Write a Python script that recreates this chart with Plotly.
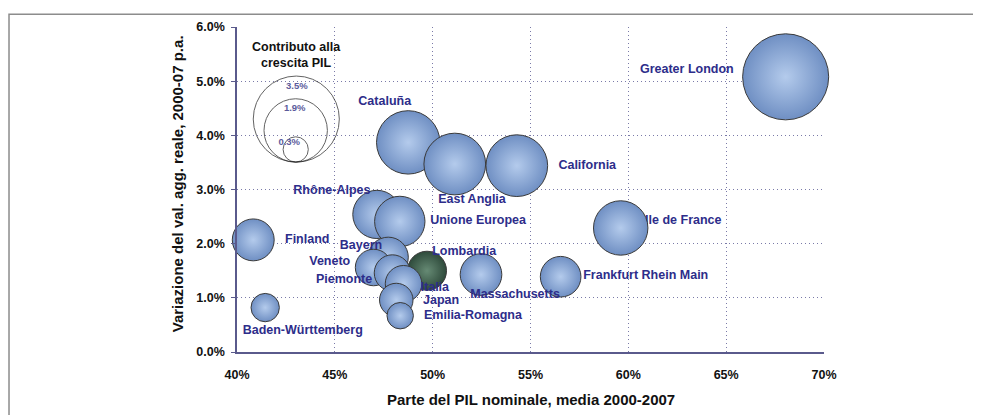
import plotly.graph_objects as go

# ---------------- data ----------------
regions = ["Greater London", "Cataluña", "East Anglia", "California", "Ile de France",
           "Rhône-Alpes", "Unione Europea", "Finland", "Frankfurt Rhein Main",
           "Massachusetts", "Bayern", "Lombardia", "Veneto", "Piemonte", "Italia",
           "Japan", "Emilia-Romagna", "Baden-Württemberg"]
pil_share = [68.04, 48.75, 51.13, 54.30, 59.61,
             47.15, 48.32, 40.83, 56.54,
             52.47, 47.73, 49.71, 46.98, 47.94, 48.51,
             48.14, 48.34, 41.44]
va_growth = [5.08, 3.87, 3.47, 3.44, 2.29,
             2.54, 2.41, 2.07, 1.39,
             1.43, 1.75, 1.50, 1.56, 1.46, 1.26,
             0.96, 0.67, 0.82]
contrib = [3.5, 1.9, 1.8, 1.8, 1.4,
           1.1, 1.2, 0.83, 0.78,
           0.82, 0.76, 0.72, 0.63, 0.62, 0.63,
           0.53, 0.33, 0.38]

# label anchor positions (data coordinates)
label_x = [62.99, 47.55, 52.01, 57.90, 62.81,
           44.85, 52.32, 43.59, 60.89,
           54.21, 46.34, 51.61, 44.74, 45.47, 50.11,
           50.43, 52.06, 43.36]
label_y = [5.21, 4.61, 2.81, 3.44, 2.42,
           2.98, 2.42, 2.07, 1.41,
           1.05, 1.96, 1.84, 1.66, 1.34, 1.19,
           0.94, 0.67, 0.39]

legend_values = [3.5, 1.9, 0.3]
legend_labels = ["3.5%", "1.9%", "0.3%"]
legend_x = [43.03, 43.0, 43.0]
legend_y = [4.30, 4.09, 3.74]
legend_label_x = [43.06, 42.95, 42.67]
legend_label_y = [4.90, 4.49, 3.86]

x_ticks = [40, 45, 50, 55, 60, 65, 70]
x_tick_labels = ["40%", "45%", "50%", "55%", "60%", "65%", "70%"]
y_ticks = [0, 1, 2, 3, 4, 5, 6]
y_tick_labels = ["0.0%", "1.0%", "2.0%", "3.0%", "4.0%", "5.0%", "6.0%"]

# ---------------- styles ----------------
FONT = "Liberation Sans, Arial, sans-serif"
LABEL_COLOR = "#2D2D8A"
AXIS_COLOR = "#5A5A8C"
GRID_COLOR = "#7a7aa8"
SIZEREF = 1 / 1058.0

blue_center, blue_edge = "#b4cbec", "#6f8fc3"
green_center, green_edge = "#668a74", "#2e4a3b"

fig = go.Figure()

# label hidden below bubble (Ile de France)
hidden = [i for i, r in enumerate(regions) if r == "Ile de France"]
fig.add_trace(go.Scatter(
    x=[label_x[i] for i in hidden], y=[label_y[i] for i in hidden],
    text=[regions[i] for i in hidden], mode="text", textposition="middle center",
    textfont=dict(family=FONT, size=12.5, color=LABEL_COLOR, weight=700),
    cliponaxis=False, hoverinfo="skip", showlegend=False))

# bubbles, one trace each to control stacking order
for i, r in enumerate(regions):
    is_green = r == "Lombardia"
    fig.add_trace(go.Scatter(
        x=[pil_share[i]], y=[va_growth[i]], mode="markers",
        marker=dict(size=[contrib[i]], sizemode="area", sizeref=SIZEREF,
                    color=green_edge if is_green else blue_edge,
                    gradient=dict(type="radial", color=green_center if is_green else blue_center),
                    line=dict(color="#3a3a3a", width=1), opacity=1),
        cliponaxis=False, name=r, showlegend=False))

# legend circles
fig.add_trace(go.Scatter(
    x=legend_x, y=legend_y, mode="markers",
    marker=dict(size=legend_values, sizemode="area", sizeref=SIZEREF,
                color="rgba(255,255,255,0)", line=dict(color="#222222", width=1)),
    cliponaxis=False, hoverinfo="skip", showlegend=False))
fig.add_trace(go.Scatter(
    x=legend_label_x, y=legend_label_y, text=legend_labels, mode="text",
    textfont=dict(family=FONT, size=9.5, color="#5B5B9B", weight=700),
    cliponaxis=False, hoverinfo="skip", showlegend=False))

# labels on top
shown = [i for i, r in enumerate(regions) if r != "Ile de France"]
fig.add_trace(go.Scatter(
    x=[label_x[i] for i in shown], y=[label_y[i] for i in shown],
    text=[regions[i] for i in shown], mode="text", textposition="middle center",
    textfont=dict(family=FONT, size=12.5, color=LABEL_COLOR, weight=700),
    cliponaxis=False, hoverinfo="skip", showlegend=False))

fig.add_annotation(x=43.03, y=5.48, xref="x", yref="y",
                   text="Contributo alla<br>crescita PIL", showarrow=False,
                   font=dict(family=FONT, size=12.5, color="#111111", weight=700))

fig.add_annotation(x=0.5, y=-0.1465, xref="paper", yref="paper", yanchor="middle",
                   text="Parte del PIL nominale, media 2000-2007", showarrow=False,
                   font=dict(family=FONT, size=15, color="#111111", weight=700))
fig.add_annotation(x=-0.1, y=0.517, xref="paper", yref="paper", textangle=-90,
                   xanchor="center", yanchor="middle",
                   text="Variazione del val. agg. reale, 2000-07 p.a.", showarrow=False,
                   font=dict(family=FONT, size=15, color="#111111", weight=700))

# outer frame
fig.add_shape(type="rect", xref="paper", yref="paper",
              x0=-0.3884, x1=1.32, y0=-0.3, y1=1.0395,
              line=dict(color="#8c8c8c", width=1.5), fillcolor="rgba(0,0,0,0)", layer="below")

fig.update_xaxes(range=[40, 70], tickvals=x_ticks, ticktext=x_tick_labels,
                 showgrid=True, gridcolor=GRID_COLOR, griddash="1px,3px", gridwidth=1,
                 showline=True, linecolor=AXIS_COLOR, linewidth=1.5,
                 ticks="", zeroline=False, ticklabelstandoff=10,
                 tickfont=dict(family=FONT, size=12.5, color="#111111", weight=700))
fig.update_yaxes(range=[0, 6], tickvals=y_ticks, ticktext=y_tick_labels,
                 showgrid=True, gridcolor=GRID_COLOR, griddash="1px,3px", gridwidth=1,
                 showline=True, linecolor=AXIS_COLOR, linewidth=1.5,
                 ticks="outside", ticklen=4, tickcolor=AXIS_COLOR, zeroline=False,
                 ticklabelstandoff=4,
                 tickfont=dict(family=FONT, size=12.5, color="#111111", weight=700))

fig.update_layout(width=981, height=415,
                  margin=dict(l=229, r=165, t=15, b=71),
                  paper_bgcolor="white", plot_bgcolor="white",
                  showlegend=False)

fig.write_html("out.html")
